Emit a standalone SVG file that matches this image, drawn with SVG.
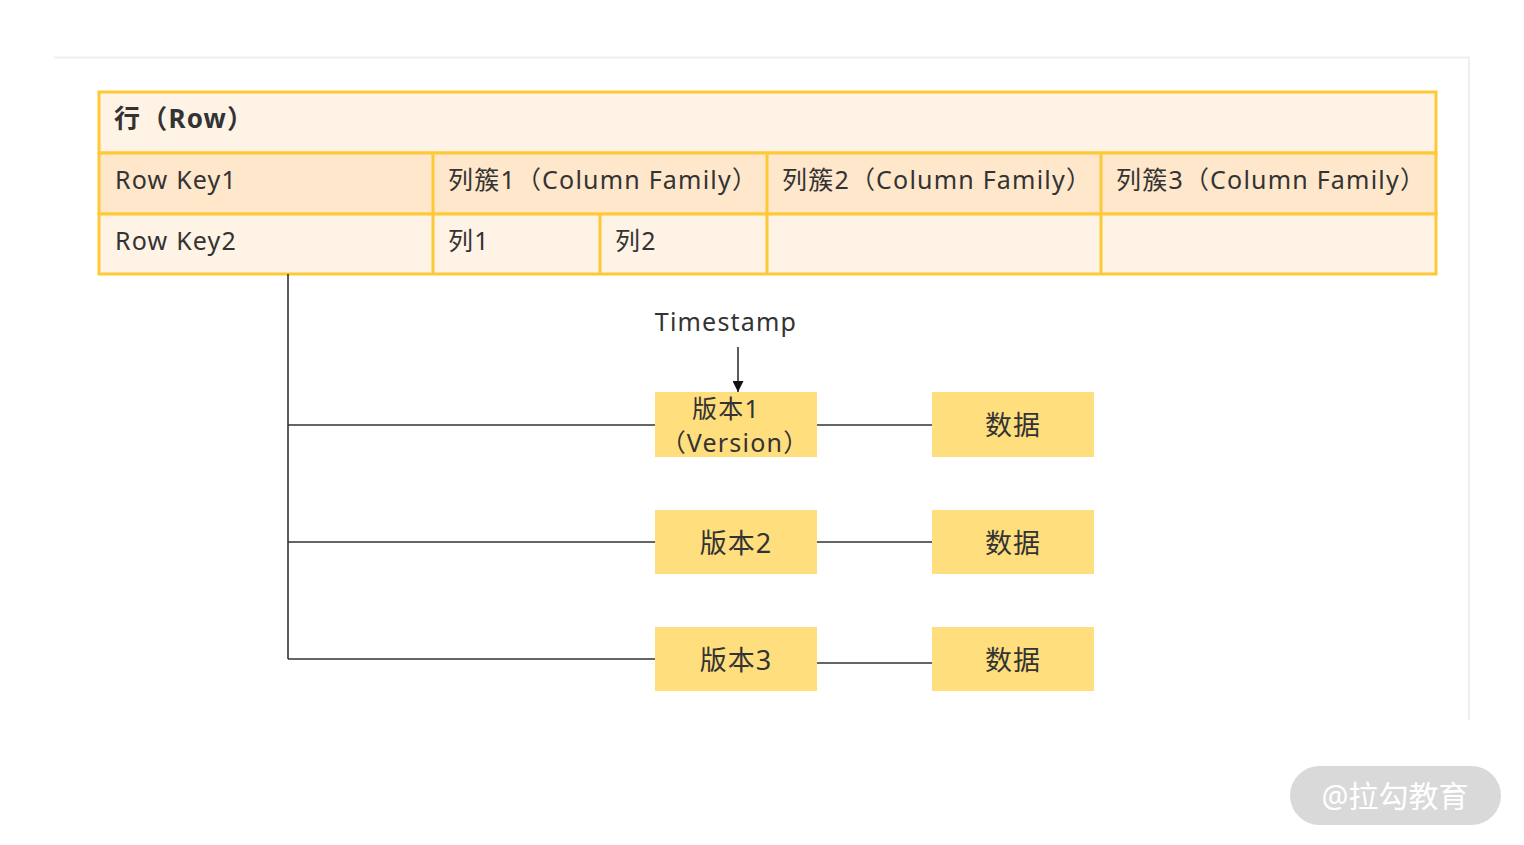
<svg xmlns="http://www.w3.org/2000/svg" width="1524" height="845" viewBox="0 0 1524 845">
<style>
.t{font-family:"Noto Sans","Noto Sans CJK SC",sans-serif;fill:#333;font-size:25px;letter-spacing:1.2px}
.b{font-size:27px;letter-spacing:1px}
.cell{stroke:#fdc936;stroke-width:3}
.box{fill:#ffde7e}
.ln{stroke:#333;stroke-width:1.6;fill:none}
</style>
<defs>
<marker id="ah" viewBox="0 0 10 10" refX="10" refY="5" markerWidth="11" markerHeight="11" markerUnits="userSpaceOnUse" orient="auto"><path d="M0,0 L10,5 L0,10 z" fill="#111"/></marker>
</defs>
<rect width="1524" height="845" fill="#fff"/>
<path d="M54 57.5 H1469 V720" stroke="#efefef" stroke-width="2" fill="none"/>
<g id="table">
<rect x="99" y="92" width="1337" height="61" fill="#fff3e6" class="cell"/>
<rect x="99" y="153" width="1337" height="61" fill="#fee7cb" class="cell"/>
<rect x="99" y="214" width="1337" height="60" fill="#fff3e6" class="cell"/>
<path d="M433 153 V274 M767 153 V274 M1101 153 V274 M600 214 V274" class="cell"/>
<text x="114" y="128" class="t" style="font-weight:bold;font-size:26px">行（Row）</text>
<text x="115" y="189" class="t">Row Key1</text>
<text x="115" y="250" class="t">Row Key2</text>
<text x="448" y="189" class="t">列簇1（Column Family）</text>
<text x="782" y="189" class="t">列簇2（Column Family）</text>
<text x="1116" y="189" class="t">列簇3（Column Family）</text>
<text x="448" y="250" class="t">列1</text>
<text x="615" y="250" class="t">列2</text>
</g>
<g id="connectors">
<path d="M288 274 V659 M288 425 H655 M288 542 H655 M288 659 H655 M817 425 H932 M817 542 H932 M817 663 H932" class="ln"/>
<path d="M738 347 V392" class="ln" marker-end="url(#ah)"/>
</g>
<g id="timestamp"><text x="726" y="331" class="t" text-anchor="middle">Timestamp</text></g>
<g id="v1"><rect x="655" y="392" width="162" height="65" class="box"/>
<text x="726" y="418" class="t" text-anchor="middle">版本1</text>
<text x="735" y="452" class="t" text-anchor="middle">（Version）</text></g>
<g id="v2"><rect x="655" y="510" width="162" height="64" class="box"/><text x="736" y="553" class="t b" text-anchor="middle">版本2</text></g>
<g id="v3"><rect x="655" y="627" width="162" height="64" class="box"/><text x="736" y="670" class="t b" text-anchor="middle">版本3</text></g>
<g id="d1"><rect x="932" y="392" width="162" height="65" class="box"/><text x="1013" y="435" class="t b" text-anchor="middle">数据</text></g>
<g id="d2"><rect x="932" y="510" width="162" height="64" class="box"/><text x="1013" y="553" class="t b" text-anchor="middle">数据</text></g>
<g id="d3"><rect x="932" y="627" width="162" height="64" class="box"/><text x="1013" y="670" class="t b" text-anchor="middle">数据</text></g>
<g id="watermark"><rect x="1290" y="766" width="211" height="59" rx="29.5" fill="#d9d9d9"/>
<text x="1395" y="807" text-anchor="middle" style="font-family:'Noto Sans','Noto Sans CJK SC',sans-serif;font-size:30px;fill:#fff">@拉勾教育</text></g>
</svg>
